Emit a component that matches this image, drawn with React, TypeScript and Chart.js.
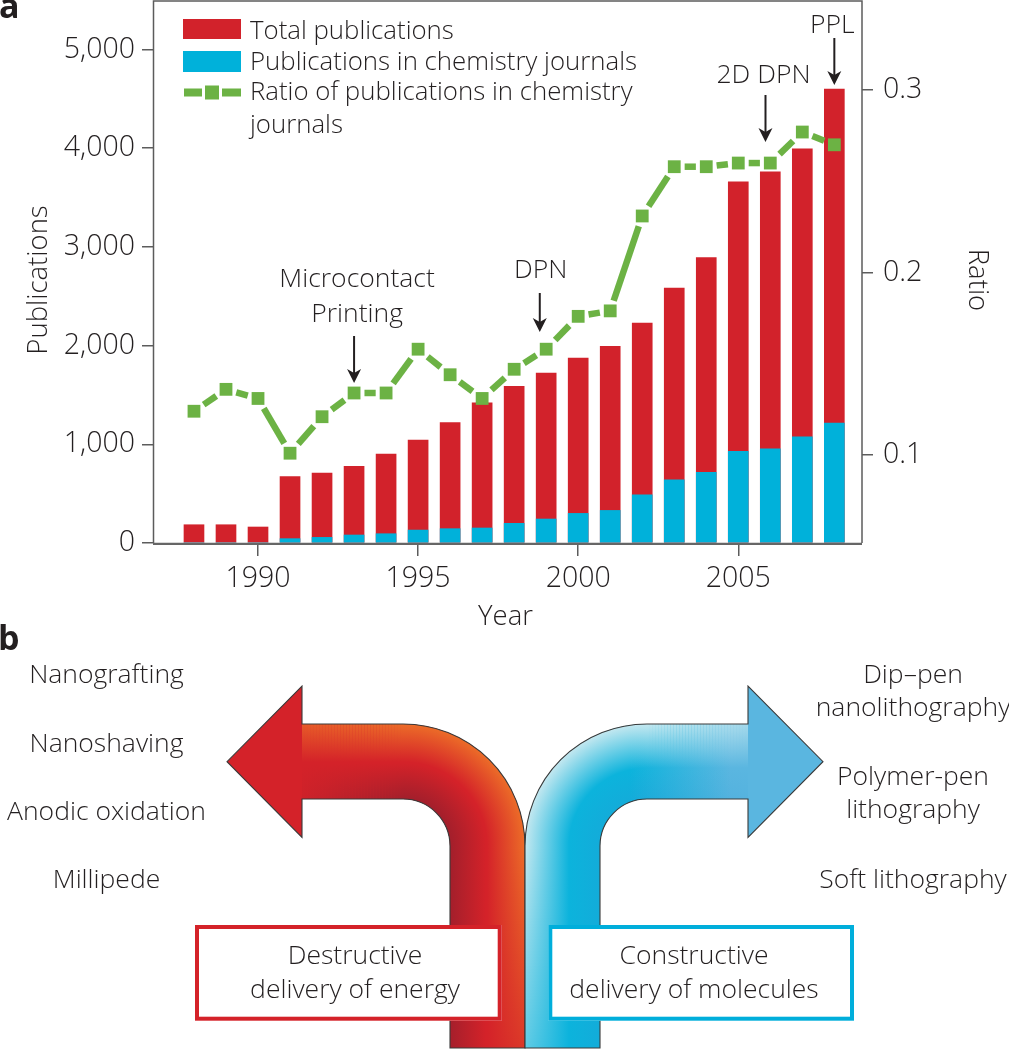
import React, { useEffect, useRef } from 'react';
import { Chart, registerables } from 'chart.js';

Chart.register(...registerables);

// ---------- data ----------
const years = [1988, 1989, 1990, 1991, 1992, 1993, 1994, 1995, 1996, 1997, 1998, 1999, 2000, 2001, 2002, 2003, 2004, 2005, 2006, 2007, 2008];
const totalPublications = [185, 185, 162, 674, 709, 776, 901, 1043, 1221, 1421, 1586, 1721, 1873, 1991, 2228, 2582, 2892, 3658, 3760, 3992, 4597];
const chemistryPublications = [0, 0, 0, 44, 57, 81, 94, 131, 145, 152, 199, 243, 300, 330, 489, 641, 715, 928, 955, 1076, 1215];
const chemistryRatio = [0.124, 0.136, 0.131, 0.101, 0.121, 0.134, 0.134, 0.158, 0.144, 0.131, 0.147, 0.158, 0.176, 0.179, 0.231, 0.258, 0.258, 0.260, 0.260, 0.277, 0.270];
const xTickYears = [1990, 1995, 2000, 2005];
const publicationTicks = [0, 1000, 2000, 3000, 4000, 5000];
const ratioTicks = [0.1, 0.2, 0.3];
const seriesNames = ['Total publications', 'Publications in chemistry journals', 'Ratio of publications in chemistry journals'];
const legendLines = [['Total publications'], ['Publications in chemistry journals'], ['Ratio of publications in chemistry', 'journals']];
const milestoneYears = [1993, 1998.8, 2005.85, 2008];
const milestoneLabels = [['Microcontact', 'Printing'], ['DPN'], ['2D DPN'], ['PPL']];
const destructiveMethods = ['Nanografting', 'Nanoshaving', 'Anodic oxidation', 'Millipede'];
const constructiveMethods = [['Dip–pen', 'nanolithography'], ['Polymer-pen', 'lithography'], ['Soft lithography']];
const destructiveLabel = ['Destructive', 'delivery of energy'];
const constructiveLabel = ['Constructive', 'delivery of molecules'];

// ---------- styles / layout ----------
const TEXT = '#231f20';
const FONT = "'Open Sans', 'DejaVu Sans', sans-serif";
const RED = '#d2222b';
const BLUE = '#00b1da';
const GREEN = '#6cb244';
const AXIS = '#5c5c5c';
const TXT = 26.5;
const LEGEND_TXT = 25.8;
const TICK = 28.5;
const TITLE = 27.5;

const X_MIN = 1986.72;
const X_MAX = 2008.864;
const Y_MAX = 5490;
const R_MIN = 0.0518;
const R_MAX = 0.3488;
const MARKER_HALF = 6.4;

const milestoneLayout = [
  { baselines: [287, 322], dx: 3, arrowTop: 336, arrowTip: 383 },
  { baselines: [278], dx: 1, arrowTop: 293, arrowTip: 332 },
  { baselines: [83], dx: -2, arrowTop: 95, arrowTip: 142 },
  { baselines: [33], dx: -2, arrowTop: 38, arrowTip: 85 },
];
const legendLayout = { swatchX: 183, swatchW: 58, textX: 250, baselines: [[39], [70], [100, 133]] };
const leftMethodLayout = { x: 106.5, baselines: [682.5, 751.5, 820, 888] };
const rightMethodLayout = { x: 913, baselines: [[683, 716], [785, 818], [887.5]] };

const ARROW = { axis: 525, outer: 0, inner: 75, center: 122, back: 223, tip: 298, top: 724, bot: 799, cy: 846, headTop: 686, headBot: 837.4, tipY: 761.7, base: 1048, rOut: 122, rIn: 47 };

function font(size: number, weight = '300') {
  return `${weight} ${size}px ${FONT}`;
}

function drawText(ctx: CanvasRenderingContext2D, s: string, x: number, y: number, size: number, align: CanvasTextAlign = 'left', weight = '300') {
  ctx.font = font(size, weight);
  ctx.fillStyle = TEXT;
  ctx.textAlign = align;
  ctx.textBaseline = 'alphabetic';
  ctx.fillText(s, x, y);
}

function rgba(c: number[], a: number) {
  return `rgba(${c[0]},${c[1]},${c[2]},${a})`;
}

function arrowPath(ctx: CanvasRenderingContext2D, dir: number) {
  const A = ARROW;
  const X = (d: number) => A.axis + dir * d;
  const cx = X(A.center);
  ctx.beginPath();
  ctx.moveTo(X(A.inner), A.base);
  ctx.lineTo(X(A.inner), A.cy);
  if (dir < 0) ctx.arc(cx, A.cy, A.rIn, 0, -Math.PI / 2, true);
  else ctx.arc(cx, A.cy, A.rIn, Math.PI, 1.5 * Math.PI, false);
  ctx.lineTo(X(A.back), A.bot);
  ctx.lineTo(X(A.back), A.headBot);
  ctx.lineTo(X(A.tip), A.tipY);
  ctx.lineTo(X(A.back), A.headTop);
  ctx.lineTo(X(A.back), A.top);
  ctx.lineTo(cx, A.top);
  if (dir < 0) ctx.arc(cx, A.cy, A.rOut, -Math.PI / 2, 0, false);
  else ctx.arc(cx, A.cy, A.rOut, 1.5 * Math.PI, Math.PI, true);
  ctx.lineTo(X(A.outer), A.base);
  ctx.closePath();
}

type Band = { color: number[]; alpha: number; hAlpha: number; vAlpha: number; width: number };

function drawBand(ctx: CanvasRenderingContext2D, dir: number, band: Band, outerSide: boolean) {
  const A = ARROW;
  const X = (d: number) => A.axis + dir * d;
  const cx = X(A.center);
  const c0 = rgba(band.color, band.alpha);
  const c1 = rgba(band.color, 0);
  const w = band.width;
  let g: CanvasGradient;
  // vertical shaft: strips fading toward the bottom
  const edgeX = outerSide ? X(A.outer) : X(A.inner);
  const toX = outerSide ? X(A.outer + w) : X(A.inner - w);
  const vSpan = A.base - A.cy + 2;
  const vSteps = Math.ceil(vSpan / 3);
  for (let k = 0; k < vSteps; k++) {
    const y0 = A.cy + (k * vSpan) / vSteps;
    const y1 = A.cy + ((k + 1) * vSpan) / vSteps;
    const t = (k + 0.5) / vSteps;
    const a = band.alpha + (band.vAlpha - band.alpha) * t;
    g = ctx.createLinearGradient(edgeX, 0, toX, 0);
    g.addColorStop(0, rgba(band.color, a));
    g.addColorStop(1, c1);
    ctx.fillStyle = g;
    ctx.fillRect(Math.min(X(A.outer), X(A.inner)), y0, A.inner, y1 - y0);
  }
  // corner
  if (outerSide) {
    g = ctx.createRadialGradient(cx, A.cy, A.rOut - w, cx, A.cy, A.rOut);
    g.addColorStop(0, c1);
    g.addColorStop(1, c0);
  } else {
    g = ctx.createRadialGradient(cx, A.cy, A.rIn, cx, A.cy, A.rIn + w);
    g.addColorStop(0, c0);
    g.addColorStop(1, c1);
  }
  ctx.fillStyle = g;
  ctx.fillRect(Math.min(X(A.outer), cx), A.top - 2, A.center, A.cy - A.top + 2);
  // horizontal shaft: strips whose strength fades away from the corner
  const edgeY = outerSide ? A.top : A.bot;
  const toY = outerSide ? A.top + w : A.bot - w;
  const span = A.back - A.center;
  const steps = Math.ceil(span / 3);
  for (let k = 0; k < steps; k++) {
    const d0 = A.center + (k * span) / steps;
    const d1 = A.center + ((k + 1) * span) / steps;
    const t = (k + 0.5) / steps;
    const a = band.alpha + (band.hAlpha - band.alpha) * t;
    g = ctx.createLinearGradient(0, edgeY, 0, toY);
    g.addColorStop(0, rgba(band.color, a));
    g.addColorStop(1, c1);
    ctx.fillStyle = g;
    const xa = Math.min(X(d0), X(d1));
    ctx.fillRect(xa, A.top - 2, Math.abs(X(d1) - X(d0)), A.bot - A.top + 4);
  }
}

function drawBentArrow(ctx: CanvasRenderingContext2D, dir: number, base: string | CanvasGradient, outer: Band, inner: Band) {
  ctx.save();
  arrowPath(ctx, dir);
  ctx.fillStyle = base;
  ctx.fill();
  ctx.clip();
  drawBand(ctx, dir, outer, true);
  drawBand(ctx, dir, inner, false);
  ctx.restore();
  ctx.save();
  arrowPath(ctx, dir);
  ctx.strokeStyle = '#3a3a3a';
  ctx.lineWidth = 1.1;
  ctx.stroke();
  ctx.restore();
}

function drawBox(ctx: CanvasRenderingContext2D, x0: number, y0: number, x1: number, y1: number, color: string) {
  ctx.save();
  ctx.fillStyle = '#ffffff';
  ctx.fillRect(x0, y0, x1 - x0, y1 - y0);
  ctx.strokeStyle = color;
  ctx.lineWidth = 4;
  ctx.strokeRect(x0 + 2, y0 + 2, x1 - x0 - 4, y1 - y0 - 4);
  ctx.restore();
}

function drawDownArrow(ctx: CanvasRenderingContext2D, x: number, top: number, tip: number) {
  ctx.save();
  ctx.strokeStyle = '#231f20';
  ctx.fillStyle = '#231f20';
  ctx.lineWidth = 2;
  ctx.beginPath();
  ctx.moveTo(x, top);
  ctx.lineTo(x, tip - 8);
  ctx.stroke();
  ctx.beginPath();
  ctx.moveTo(x, tip);
  ctx.lineTo(x - 7, tip - 14);
  ctx.lineTo(x, tip - 10);
  ctx.lineTo(x + 7, tip - 14);
  ctx.closePath();
  ctx.fill();
  ctx.restore();
}

const figurePlugin = {
  id: 'figure',
  afterDraw(chart: any) {
    const ctx: CanvasRenderingContext2D = chart.ctx;
    const { left, right, top, bottom } = chart.chartArea;
    const xs = chart.scales.x;
    ctx.save();

    // frame
    ctx.strokeStyle = AXIS;
    ctx.lineWidth = 1.5;
    ctx.beginPath();
    ctx.moveTo(left + 0.5, bottom);
    ctx.lineTo(left + 0.5, top);
    ctx.lineTo(right, top);
    ctx.lineTo(right, bottom);
    ctx.stroke();
    ctx.lineWidth = 2.3;
    ctx.strokeStyle = '#666666';
    ctx.beginPath();
    ctx.moveTo(left, bottom + 0.8);
    ctx.lineTo(right, bottom + 0.8);
    ctx.stroke();

    // legend
    const L = legendLayout;
    ctx.fillStyle = RED;
    ctx.fillRect(L.swatchX, 19, L.swatchW, 20);
    ctx.fillStyle = BLUE;
    ctx.fillRect(L.swatchX, 51, L.swatchW, 21);
    ctx.strokeStyle = GREEN;
    ctx.lineWidth = 8;
    ctx.beginPath();
    ctx.moveTo(L.swatchX + 1, 92.5);
    ctx.lineTo(L.swatchX + 19, 92.5);
    ctx.moveTo(L.swatchX + 39, 92.5);
    ctx.lineTo(L.swatchX + L.swatchW, 92.5);
    ctx.stroke();
    ctx.fillStyle = GREEN;
    ctx.fillRect(L.swatchX + L.swatchW / 2 - 7, 92.5 - 7, 14, 14);
    legendLines.forEach((lines, i) => {
      lines.forEach((s, j) => drawText(ctx, s, L.textX, L.baselines[i][j], LEGEND_TXT));
    });

    // axis titles
    drawText(ctx, 'Year', (left + right) / 2 - 2, 625, TITLE, 'center');
    ctx.save();
    ctx.translate(46.5, 280);
    ctx.rotate(-Math.PI / 2);
    drawText(ctx, 'Publications', 0, 0, TITLE, 'center');
    ctx.restore();
    ctx.save();
    ctx.translate(968.5, 280);
    ctx.rotate(Math.PI / 2);
    drawText(ctx, 'Ratio', 0, 0, TITLE, 'center');
    ctx.restore();

    // milestones
    milestoneYears.forEach((yr, i) => {
      const lay = milestoneLayout[i];
      const x = xs.getPixelForValue(yr);
      milestoneLabels[i].forEach((s, j) => drawText(ctx, s, x + lay.dx, lay.baselines[j], TXT, 'center'));
      drawDownArrow(ctx, x, lay.arrowTop, lay.arrowTip);
    });

    // panel letters
    drawText(ctx, 'a', -1, 17.5, 34, 'left', 'bold');
    drawText(ctx, 'b', -2, 650, 34, 'left', 'bold');

    // ---------- panel b ----------
    const redOuter = { color: [236, 108, 40], alpha: 1, hAlpha: 0.75, vAlpha: 0.3, width: 38 };
    const redInner = { color: [150, 30, 44], alpha: 0.8, hAlpha: 0.1, vAlpha: 0.75, width: 36 };
    drawBentArrow(ctx, -1, '#d42229', redOuter, redInner);

    const blueBase = ctx.createLinearGradient(630, 0, 730, 0);
    blueBase.addColorStop(0, '#0cb3dc');
    blueBase.addColorStop(1, '#5ab6e0');
    const blueOuter = { color: [196, 232, 240], alpha: 1, hAlpha: 0.7, vAlpha: 0.45, width: 44 };
    const blueInner = { color: [40, 150, 210], alpha: 0.25, hAlpha: 0.1, vAlpha: 0.25, width: 30 };
    drawBentArrow(ctx, 1, blueBase, blueOuter, blueInner);

    drawBox(ctx, 195, 925, 501.7, 1020.7, '#d42229');
    drawBox(ctx, 548.3, 925, 854, 1020.7, '#00aedb');
    destructiveLabel.forEach((s, j) => drawText(ctx, s, 355, [964, 998][j], TXT, 'center'));
    constructiveLabel.forEach((s, j) => drawText(ctx, s, 694, [964, 998][j], TXT, 'center'));

    destructiveMethods.forEach((s, i) => drawText(ctx, s, leftMethodLayout.x, leftMethodLayout.baselines[i], TXT, 'center'));
    constructiveMethods.forEach((lines, i) => {
      lines.forEach((s, j) => drawText(ctx, s, rightMethodLayout.x, rightMethodLayout.baselines[i][j], TXT, 'center'));
    });

    ctx.restore();
  },
};

const xTickFont = { family: FONT, size: TICK, weight: '300' as any };
const yTickFont = { family: FONT, size: TICK, weight: '300' as any, lineHeight: 0.07 };

// dashes restart on every segment, leaving a gap next to each square marker
function segmentDash(c: any) {
  const dx = c.p1.x - c.p0.x;
  const dy = c.p1.y - c.p0.y;
  const len = Math.hypot(dx, dy);
  if (len < 1) return [];
  const exit = (MARKER_HALF * len) / Math.max(Math.abs(dx), Math.abs(dy));
  const gap = exit + 4;
  return [0, gap, Math.max(len - 2 * gap, 0), 10000];
}

export default function App() {
  const ref = useRef<HTMLCanvasElement>(null);
  useEffect(() => {
    const canvas = ref.current;
    if (!canvas) return;
    const chart = new Chart(canvas, {
      type: 'bar',
      data: {
        datasets: [
          {
            type: 'line',
            label: seriesNames[2],
            data: years.map((yr, i) => ({ x: yr, y: chemistryRatio[i] })),
            yAxisID: 'y1',
            borderColor: GREEN,
            borderWidth: 6.5,
            backgroundColor: GREEN,
            pointStyle: 'rect',
            pointRadius: MARKER_HALF * Math.SQRT2,
            pointBackgroundColor: GREEN,
            pointBorderWidth: 0,
            tension: 0,
            segment: { borderDash: segmentDash },
            order: 0,
          } as any,
          {
            type: 'bar',
            label: seriesNames[1],
            data: years.map((yr, i) => ({ x: yr, y: chemistryPublications[i] })),
            yAxisID: 'y',
            backgroundColor: BLUE,
            borderWidth: 0,
            barThickness: 20,
            grouped: false,
            order: 1,
          } as any,
          {
            type: 'bar',
            label: seriesNames[0],
            data: years.map((yr, i) => ({ x: yr, y: totalPublications[i] })),
            yAxisID: 'y',
            backgroundColor: RED,
            borderWidth: 0,
            barThickness: 20,
            grouped: false,
            order: 2,
          } as any,
        ],
      },
      options: {
        responsive: false,
        animation: false,
        devicePixelRatio: 1,
        events: [],
        layout: { autoPadding: false, padding: { top: 1, left: 0, right: 0, bottom: 0 } },
        plugins: { legend: { display: false }, tooltip: { enabled: false }, title: { display: false } },
        scales: {
          x: {
            type: 'linear',
            position: 'bottom',
            min: X_MIN,
            max: X_MAX,
            offset: false,
            grid: { drawOnChartArea: false, drawTicks: true, tickLength: 13, color: AXIS, lineWidth: 1.5, offset: false },
            border: { display: false },
            ticks: { font: xTickFont, color: TEXT, padding: 6, maxRotation: 0, autoSkip: false, callback: (v: any) => String(v) },
            afterBuildTicks: (s: any) => { s.ticks = xTickYears.map((v) => ({ value: v })); },
            afterFit: (s: any) => { s.height = 507; s.paddingLeft = 0; s.paddingRight = 0; },
          } as any,
          y: {
            type: 'linear',
            position: 'left',
            min: 0,
            max: Y_MAX,
            grid: { drawOnChartArea: false, drawTicks: true, tickLength: 18, tickBorderDash: [0, 7, 11, 200], color: AXIS, lineWidth: 1.5 },
            border: { display: false },
            ticks: { font: yTickFont, color: TEXT, padding: 0, callback: (v: any) => Number(v).toLocaleString('en-US') },
            afterBuildTicks: (s: any) => { s.ticks = publicationTicks.map((v) => ({ value: v })); },
            afterFit: (s: any) => { s.width = 153; s.paddingTop = 0; s.paddingBottom = 0; },
          } as any,
          y1: {
            type: 'linear',
            position: 'right',
            min: R_MIN,
            max: R_MAX,
            grid: { drawOnChartArea: false, drawTicks: true, tickLength: 21, tickBorderDash: [11, 200], color: AXIS, lineWidth: 1.5 },
            border: { display: false },
            ticks: { font: yTickFont, color: TEXT, padding: 0, callback: (v: any) => String(v) },
            afterBuildTicks: (s: any) => { s.ticks = ratioTicks.map((v) => ({ value: v })); },
            afterFit: (s: any) => { s.width = 147; s.paddingTop = 0; s.paddingBottom = 0; },
          } as any,
        },
      },
      plugins: [figurePlugin],
    } as any);
    return () => chart.destroy();
  }, []);
  return (
    <div style={{ position: 'fixed', left: 0, top: 0, width: 1009, height: 1050, background: '#ffffff' }}>
      <canvas ref={ref} width={1009} height={1050} style={{ display: 'block', width: 1009, height: 1050 }} />
    </div>
  );
}
